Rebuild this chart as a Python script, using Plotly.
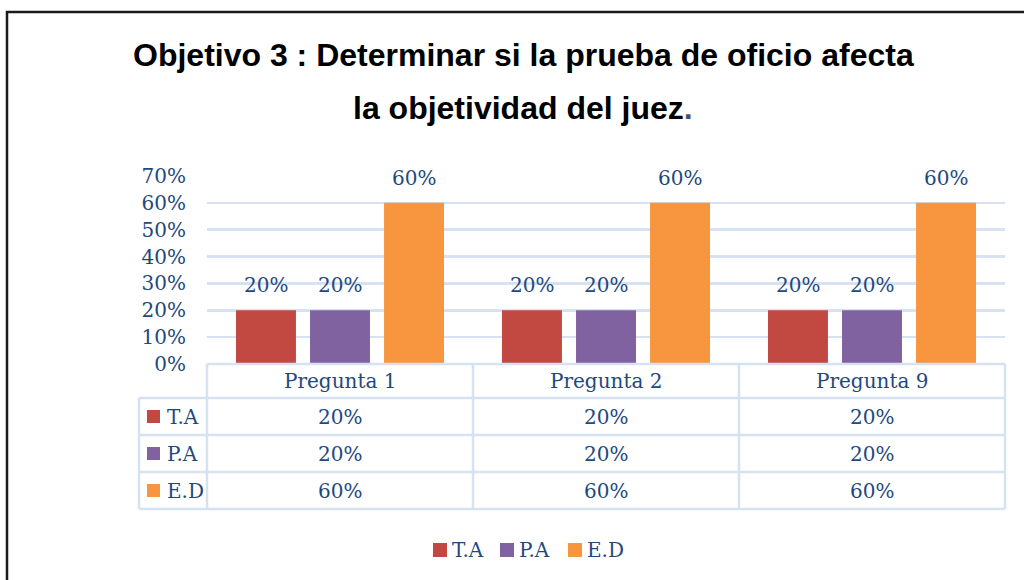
import plotly.graph_objects as go

# ---- data ----
categories = ["Pregunta 1", "Pregunta 2", "Pregunta 9"]
series_names = ["T.A", "P.A", "E.D"]
ta_values = [0.20, 0.20, 0.20]
pa_values = [0.20, 0.20, 0.20]
ed_values = [0.60, 0.60, 0.60]
y_tick_values = [0, 0.1, 0.2, 0.3, 0.4, 0.5, 0.6, 0.7]
y_tick_labels = ["0%", "10%", "20%", "30%", "40%", "50%", "60%", "70%"]
title_line1 = "Objetivo 3 : Determinar si la prueba de oficio afecta"
title_line2 = "la objetividad del juez"

series_values = [ta_values, pa_values, ed_values]
colors = ["#C24842", "#8062A0", "#F7963F"]

W, H = 1024, 580
def X(px):
    return px / W
def Y(py):
    return 1 - py / H

TEXT = "#1F497D"
FONT = "DejaVu Serif"
FS = 20
GRID = "#D6E2F2"

BARGAP = 0.165
GROUPGAP = 0.19

fig = go.Figure()
for name, vals, col in zip(series_names, series_values, colors):
    fig.add_trace(go.Bar(
        x=categories, y=vals, name=name,
        marker=dict(color=col, line=dict(width=0)),
        showlegend=False, hoverinfo="skip",
    ))

annotations = []
shapes = []

# bar value labels
slot = (1 - BARGAP) / len(series_names)
for j, vals in enumerate(series_values):
    for i, v in enumerate(vals):
        annotations.append(dict(
            x=i + (j - (len(series_names) - 1) / 2) * slot, y=v,
            xref="x", yref="y", text=f"{v:.0%}", showarrow=False,
            yanchor="middle", yshift=25,
            font=dict(family=FONT, size=FS, color=TEXT),
        ))

# data table geometry
left_col, plot_left, plot_right = 139, 207, 1005
row_edges = [364, 398, 435, 472, 509]
cat_w = (plot_right - plot_left) / len(categories)

shapes.append(dict(type="line", xref="paper", yref="paper",
                   x0=X(plot_left), x1=X(plot_right), y0=Y(row_edges[0]), y1=Y(row_edges[0]),
                   line=dict(color=GRID, width=2.5)))
for ry in row_edges[1:]:
    shapes.append(dict(type="line", xref="paper", yref="paper",
                       x0=X(left_col), x1=X(plot_right), y0=Y(ry), y1=Y(ry),
                       line=dict(color=GRID, width=2.5)))
shapes.append(dict(type="line", xref="paper", yref="paper",
                   x0=X(left_col), x1=X(left_col), y0=Y(row_edges[1]), y1=Y(row_edges[-1]),
                   line=dict(color=GRID, width=2.5)))
for k in range(len(categories) + 1):
    vx = plot_left + k * cat_w
    shapes.append(dict(type="line", xref="paper", yref="paper",
                       x0=X(vx), x1=X(vx), y0=Y(row_edges[0]), y1=Y(row_edges[-1]),
                       line=dict(color=GRID, width=2.5)))

# header
hc = (row_edges[0] + row_edges[1]) / 2
for i, c in enumerate(categories):
    annotations.append(dict(x=i, y=Y(hc), xref="x", yref="paper", text=c,
                            showarrow=False, yanchor="middle",
                            font=dict(family=FONT, size=FS, color=TEXT)))
# rows
for r, (name, vals, col) in enumerate(zip(series_names, series_values, colors)):
    rc = (row_edges[r + 1] + row_edges[r + 2]) / 2
    shapes.append(dict(type="rect", xref="paper", yref="paper",
                       x0=X(147), x1=X(160), y0=Y(rc - 6.5), y1=Y(rc + 6.5),
                       fillcolor=col, line=dict(width=0)))
    annotations.append(dict(x=X(165), y=Y(rc), xref="paper", yref="paper", text=name,
                            showarrow=False, xanchor="left", yanchor="middle",
                            font=dict(family=FONT, size=FS, color=TEXT)))
    for i, v in enumerate(vals):
        annotations.append(dict(x=i, y=Y(rc), xref="x", yref="paper", text=f"{v:.0%}",
                                showarrow=False, yanchor="middle",
                                font=dict(family=FONT, size=FS, color=TEXT)))

# bottom legend
legend_sq = [433, 500, 568]
for name, col, sx in zip(series_names, colors, legend_sq):
    shapes.append(dict(type="rect", xref="paper", yref="paper",
                       x0=X(sx), x1=X(sx + 14), y0=Y(543), y1=Y(557),
                       fillcolor=col, line=dict(width=0)))
    annotations.append(dict(x=X(sx + 17), y=Y(550), xref="paper", yref="paper", text=name,
                            showarrow=False, xanchor="left", yanchor="middle",
                            font=dict(family=FONT, size=FS, color=TEXT)))

# title
annotations.append(dict(x=X(523), y=Y(55), xref="paper", yref="paper", text=f"<b>{title_line1}</b>",
                        showarrow=False, xanchor="center", yanchor="middle",
                        font=dict(family="Liberation Sans", size=32, color="#000000")))
annotations.append(dict(x=X(523), y=Y(108), xref="paper", yref="paper",
                        text=f"<b>{title_line2}<span style='color:#44546A'>.</span></b>",
                        showarrow=False, xanchor="center", yanchor="middle",
                        font=dict(family="Liberation Sans", size=32, color="#000000")))

# chart frame
shapes.append(dict(type="rect", xref="paper", yref="paper",
                   x0=X(7), x1=X(W + 20), y0=Y(12), y1=Y(H + 20),
                   line=dict(color="#1A1A1A", width=2.5), fillcolor="rgba(0,0,0,0)"))

fig.update_layout(
    width=W, height=H, autosize=False,
    margin=dict(l=0, r=0, t=0, b=0, pad=0, autoexpand=False),
    paper_bgcolor="white", plot_bgcolor="white",
    barmode="group", bargap=BARGAP, bargroupgap=GROUPGAP,
    xaxis=dict(domain=[X(plot_left), X(plot_right)], showticklabels=False,
               showgrid=False, showline=False, zeroline=False, ticks="",
               range=[-0.5, len(categories) - 0.5]),
    yaxis=dict(domain=[Y(364), Y(176)], range=[0, 0.7],
               tickvals=y_tick_values, ticktext=y_tick_labels,
               tickfont=dict(family=FONT, size=FS, color=TEXT),
               showgrid=True, gridcolor=GRID, gridwidth=2.5,
               zeroline=False, showline=False, ticks="", ticklabelstandoff=20),
    annotations=annotations,
    shapes=shapes,
)

fig.write_html(
    "out.html",
    config={"displayModeBar": False, "staticPlot": True},
    post_script="document.body.style.margin='0';document.body.style.overflow='hidden';",
)
